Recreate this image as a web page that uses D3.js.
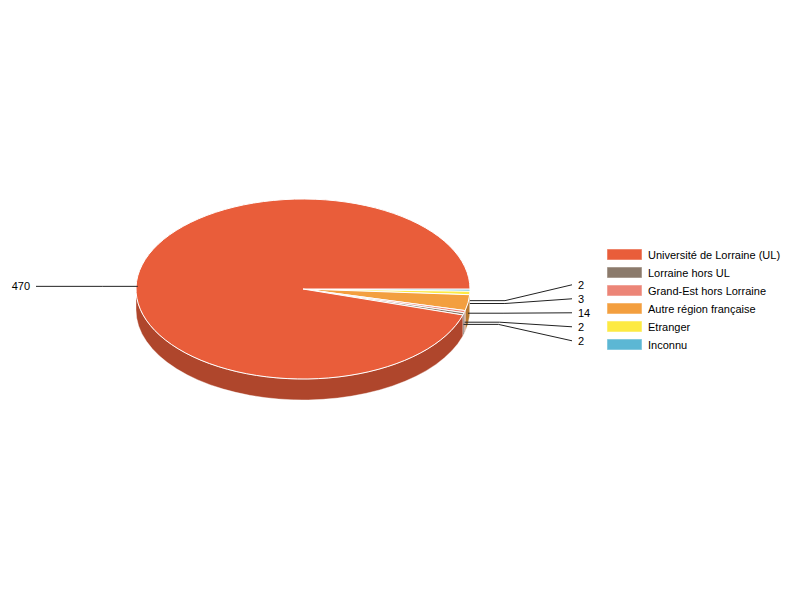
<!DOCTYPE html>
<html>
<head>
<meta charset="utf-8">
<script src="https://cdn.jsdelivr.net/npm/d3@7"></script>
<style>
  body { margin: 0; background: #fff; }
  text { font-family: "Liberation Sans", Arial, sans-serif; font-size: 11px; fill: #000; }
</style>
</head>
<body>
<div id="vis"></div>
<script>
// data, legend order
let categories = ['Université de Lorraine (UL)', 'Lorraine hors UL', 'Grand-Est hors Lorraine',
                  'Autre région française', 'Etranger', 'Inconnu'];
let values = [470, 2, 2, 14, 3, 2];
let colors = ['#e95d3a', '#8b7a6b', '#ec8577', '#f39f3f', '#fdea43', '#5cb7d4'];

let width = 800, height = 600;
let cx = 303, cy = 289,
    rx = 167, ry = 90,
    depth = 21;

let data = categories.map((c, i) => ({label: c, value: values[i], color: colors[i]}));

let svg = d3.select('#vis')
    .append('svg')
    .attr('width', width)
    .attr('height', height);

// slices go clockwise from 3 o'clock, last category first
let pie = d3.pie()
    .sort(null)
    .value(d => d.value)
    .startAngle(Math.PI / 2)
    .endAngle(Math.PI / 2 + 2 * Math.PI);

let slices = pie(data.slice().reverse());

function pt(a, dy) {
    return [cx + rx * Math.sin(a), cy - ry * Math.cos(a) + (dy || 0)];
}

function topPath(d) {
    let p0 = pt(d.startAngle), p1 = pt(d.endAngle);
    let large = (d.endAngle - d.startAngle) > Math.PI ? 1 : 0;
    return 'M' + cx + ',' + cy + 'L' + p0 + 'A' + rx + ',' + ry + ' 0 ' + large + ' 1 ' + p1 + 'Z';
}

function wallPath(d) {
    let b0 = Math.max(d.startAngle, Math.PI / 2),
        b1 = Math.min(d.endAngle, 3 * Math.PI / 2);
    if (b1 <= b0) return null;
    return 'M' + pt(b0) + 'A' + rx + ',' + ry + ' 0 0 1 ' + pt(b1) +
        'L' + pt(b1, depth) + 'A' + rx + ',' + ry + ' 0 0 0 ' + pt(b0, depth) + 'Z';
}

// side walls
svg.append('g').selectAll('path')
    .data(slices.filter(d => wallPath(d)))
    .enter()
    .append('path')
    .attr('d', wallPath)
    .attr('fill', d => d3.color(d.data.color).darker(0.8))
    .attr('stroke', '#fff')
    .attr('stroke-width', 0.4);

// top faces
svg.append('g').selectAll('path')
    .data(slices)
    .enter()
    .append('path')
    .attr('d', topPath)
    .attr('fill', d => d.data.color)
    .attr('stroke', '#fff')
    .attr('stroke-width', 1);

// labels
let labels = slices.map(d => {
    let mid = (d.startAngle + d.endAngle) / 2;
    let a = pt(mid, depth / 2);
    return {value: d.data.value, ax: a[0], ay: a[1], right: a[0] > cx, y: a[1]};
});

// spread overlapping labels on each side
let spacing = 14;
[true, false].forEach(side => {
    let group = labels.filter(l => l.right === side).sort((a, b) => a.ay - b.ay);
    for (let k = 0; k < 50; k++) {
        for (let i = 1; i < group.length; i++) {
            let gap = group[i].y - group[i - 1].y;
            if (gap < spacing) {
                let push = (spacing - gap) / 2;
                group[i].y += push;
                group[i - 1].y -= push;
            }
        }
    }
});

let lineEndRight = cx + rx + 102,
    lineEndLeft = cx - rx - 100;

let lab = svg.append('g').selectAll('g')
    .data(labels)
    .enter()
    .append('g');

lab.append('polyline')
    .attr('points', l => {
        let ex = l.right ? l.ax + 35 : l.ax - 35;
        let endX = l.right ? lineEndRight : lineEndLeft;
        return [[l.ax, l.ay], [ex, l.ay], [endX, l.y]].join(' ');
    })
    .attr('fill', 'none')
    .attr('stroke', '#222')
    .attr('stroke-width', 1);

lab.append('text')
    .attr('x', l => l.right ? lineEndRight + 6 : lineEndLeft - 6)
    .attr('y', l => l.y)
    .attr('dy', '0.35em')
    .attr('text-anchor', l => l.right ? 'start' : 'end')
    .text(l => l.value);

// legend
let legendY = d3.scaleBand()
    .domain(categories)
    .range([246, 354]);

let legend = svg.append('g').selectAll('g')
    .data(data)
    .enter()
    .append('g')
    .attr('transform', d => 'translate(607,' + legendY(d.label) + ')');

legend.append('rect')
    .attr('y', 3)
    .attr('width', 35)
    .attr('height', 11)
    .attr('fill', d => d.color)
    .attr('stroke', '#fff')
    .attr('stroke-opacity', 0.5)
    .attr('stroke-width', 1);

legend.append('text')
    .attr('x', 41)
    .attr('y', legendY.bandwidth() / 2)
    .attr('dy', '0.35em')
    .text(d => d.label);
</script>
</body>
</html>
